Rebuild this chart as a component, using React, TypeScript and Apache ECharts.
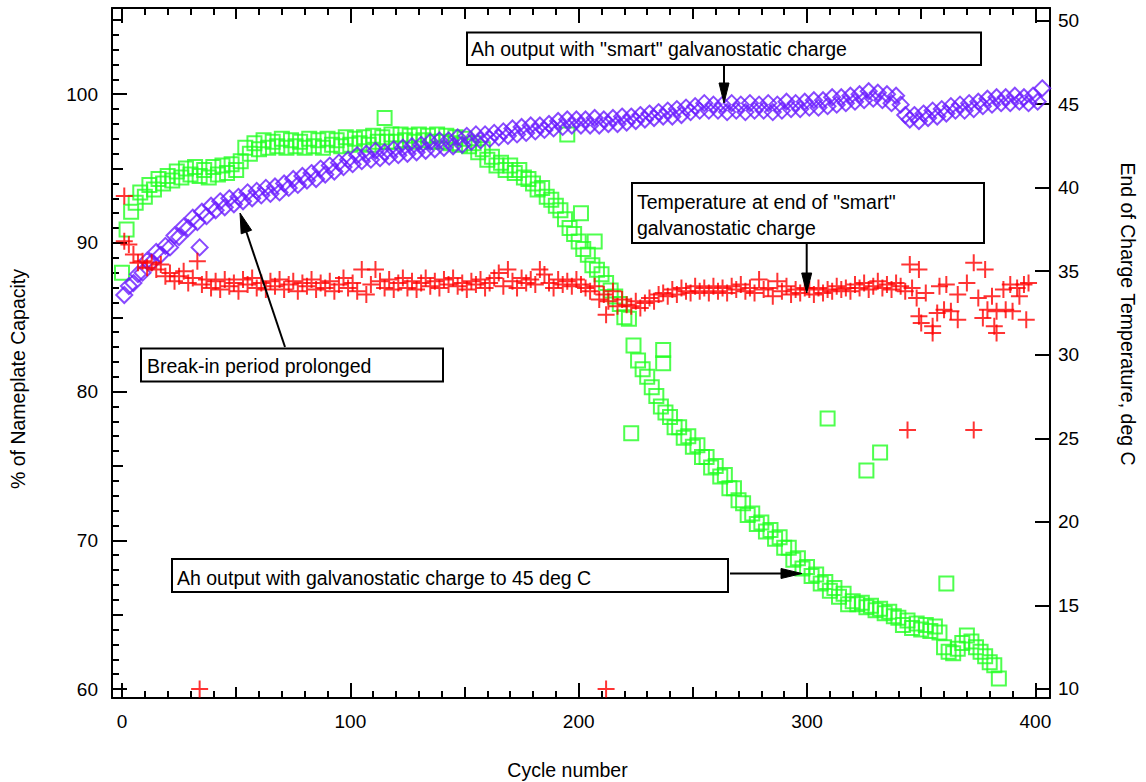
import React, { useEffect, useRef } from "react";
import * as echarts from "echarts";

// ---------- axis ranges ----------
const X_MIN = -4.38;
const X_MAX = 406.4;
const YL_MIN = 59.395;
const YL_MAX = 105.8;
const YR_MIN = 9.461;
const YR_MAX = 50.75;

// ---------- tick values ----------
const xMajorTicks = [0, 100, 200, 300, 400];
const xMediumTicks = [50, 150, 250, 350];
const xMinorTicks = [10, 20, 30, 40, 60, 70, 80, 90, 110, 120, 130, 140, 160, 170, 180, 190, 210, 220, 230, 240, 260, 270, 280, 290, 310, 320, 330, 340, 360, 370, 380, 390];
const leftMajorTicks = [60, 70, 80, 90, 100];
const leftMediumTicks = [65, 75, 85, 95, 105];
const leftMinorTicks = [61, 62, 63, 64, 66, 67, 68, 69, 71, 72, 73, 74, 76, 77, 78, 79, 81, 82, 83, 84, 86, 87, 88, 89, 91, 92, 93, 94, 96, 97, 98, 99, 101, 102, 103, 104];
const rightTicks = [10, 15, 20, 25, 30, 35, 40, 45, 50];

// ---------- data ----------
const oddCycles = [
  1, 3, 5, 7, 9, 11, 13, 15, 17, 19, 21, 23, 25, 27, 29, 31, 33, 35, 37, 39,
  41, 43, 45, 47, 49, 51, 53, 55, 57, 59, 61, 63, 65, 67, 69, 71, 73, 75, 77, 79,
  81, 83, 85, 87, 89, 91, 93, 95, 97, 99, 101, 103, 105, 107, 109, 111, 113, 115, 117, 119,
  121, 123, 125, 127, 129, 131, 133, 135, 137, 139, 141, 143, 145, 147, 149, 151, 153, 155, 157, 159,
  161, 163, 165, 167, 169, 171, 173, 175, 177, 179, 181, 183, 185, 187, 189, 191, 193, 195, 197, 199,
  201, 203, 205, 207, 209, 211, 213, 215, 217, 219, 221, 223, 225, 227, 229, 231, 233, 235, 237, 239,
  241, 243, 245, 247, 249, 251, 253, 255, 257, 259, 261, 263, 265, 267, 269, 271, 273, 275, 277, 279,
  281, 283, 285, 287, 289, 291, 293, 295, 297, 299, 301, 303, 305, 307, 309, 311, 313, 315, 317, 319,
  321, 323, 325, 327, 329, 331, 333, 335, 337, 339, 341, 343, 345, 347, 349, 351, 353, 355, 357, 359,
  361, 363, 365, 367, 369, 371, 373, 375, 377, 379, 381, 383, 385, 387, 389, 391, 393, 395, 397, 399,
  401, 403,
];
const evenCycles = [
  0, 2, 4, 6, 8, 10, 12, 14, 16, 18, 20, 22, 24, 26, 28, 30, 32, 34, 36, 38,
  40, 42, 44, 46, 48, 50, 52, 54, 56, 58, 60, 62, 64, 66, 68, 70, 72, 74, 76, 78,
  80, 82, 84, 86, 88, 90, 92, 94, 96, 98, 100, 102, 104, 106, 108, 110, 112, 114, 116, 118,
  120, 122, 124, 126, 128, 130, 132, 134, 136, 138, 140, 142, 144, 146, 148, 150, 152, 154, 156, 158,
  160, 162, 164, 166, 168, 170, 172, 174, 176, 178, 180, 182, 184, 186, 188, 190, 192, 194, 196, 198,
  200, 202, 204, 206, 208, 210, 212, 214, 216, 218, 220, 222, 224, 226, 228, 230, 232, 234, 236, 238,
  240, 242, 244, 246, 248, 250, 252, 254, 256, 258, 260, 262, 264, 266, 268, 270, 272, 274, 276, 278,
  280, 282, 284, 286, 288, 290, 292, 294, 296, 298, 300, 302, 304, 306, 308, 310, 312, 314, 316, 318,
  320, 322, 324, 326, 328, 330, 332, 334, 336, 338, 340, 342, 344, 346, 348, 350, 352, 354, 356, 358,
  360, 362, 364, 366, 368, 370, 372, 374, 376, 378, 380, 382, 384,
];

// Ah output with "smart" galvanostatic charge (% of nameplate), odd cycles 1..403
const smartCapacity = [
  86.5, 87.1, 87.3, 87.9, 88.0, 88.8, 88.7, 89.4, 89.2, 89.8,
  89.7, 90.5, 90.4, 91.1, 91.0, 91.7, 91.4, 92.1, 91.8, 92.5,
  92.2, 92.8, 92.4, 93.0, 92.6, 93.1, 92.8, 93.4, 93.0, 93.5,
  93.2, 93.7, 93.3, 93.8, 93.4, 94.0, 93.7, 94.3, 93.9, 94.5,
  94.2, 94.7, 94.3, 95.0, 94.6, 95.2, 94.8, 95.4, 95.1, 95.6,
  95.3, 95.9, 95.5, 96.0, 95.6, 96.2, 95.7, 96.1, 95.8, 96.3,
  95.9, 96.4, 96.0, 96.5, 96.1, 96.6, 96.2, 96.8, 96.3, 96.9,
  96.4, 96.9, 96.5, 97.1, 96.6, 97.2, 96.8, 97.3, 96.9, 97.3,
  97.0, 97.4, 97.1, 97.5, 97.2, 97.7, 97.3, 97.8, 97.4, 97.9,
  97.5, 97.9, 97.6, 98.0, 97.7, 98.2, 97.8, 98.3, 97.9, 98.3,
  97.9, 98.3, 97.9, 98.4, 97.9, 98.3, 98.0, 98.4, 98.0, 98.5,
  98.1, 98.5, 98.2, 98.6, 98.3, 98.7, 98.4, 98.8, 98.5, 98.9,
  98.5, 99.0, 98.6, 99.1, 98.8, 99.2, 98.9, 99.4, 98.9, 99.3,
  98.9, 99.3, 98.8, 99.4, 98.9, 99.3, 98.8, 99.4, 98.9, 99.3,
  98.9, 99.4, 98.8, 99.3, 98.9, 99.5, 99.0, 99.4, 99.0, 99.5,
  99.1, 99.6, 99.1, 99.6, 99.2, 99.8, 99.3, 99.8, 99.4, 99.9,
  99.5, 100.0, 99.6, 100.2, 99.7, 100.1, 99.6, 100.0, 99.4, 99.9,
  99.3, 98.6, 98.3, 98.6, 98.2, 98.7, 98.4, 98.9, 98.5, 99.0,
  98.7, 99.2, 98.9, 99.3, 98.9, 99.4, 99.0, 99.5, 99.2, 99.7,
  99.3, 99.8, 99.4, 99.8, 99.4, 99.9, 99.5, 99.8, 99.4, 99.9,
  99.5, 100.4,
];
const smartCapacityExtra: [number, number][] = [[34, 89.7]];

// Ah output with galvanostatic charge to 45 deg C (% of nameplate), even cycles 0..384
const galvCapacity = [
  88.0, 90.9, 92.1, 92.7, 93.4, 93.1, 93.9, 93.6, 94.3, 94.0,
  94.5, 94.2, 94.8, 94.4, 95.0, 94.6, 95.1, 94.5, 94.9, 94.4,
  95.1, 94.6, 95.2, 94.7, 95.3, 94.9, 95.5, 96.4, 96.0, 96.7,
  96.3, 96.9, 96.4, 96.8, 96.5, 97.0, 96.4, 96.9, 96.5, 96.8,
  96.4, 97.0, 96.5, 96.9, 96.4, 97.0, 96.6, 96.9, 96.5, 97.1,
  96.6, 97.0, 96.7, 97.1, 96.6, 97.2, 96.8, 97.1, 96.8, 97.3,
  96.8, 97.3, 96.9, 97.2, 96.8, 97.3, 96.9, 97.2, 96.8, 97.3,
  96.8, 97.2, 96.7, 97.1, 96.6, 97.0, 96.5, 96.7, 96.1, 96.3,
  95.6, 95.8, 95.2, 95.4, 94.9, 95.2, 94.7, 94.9, 94.4, 94.3,
  94.0, 93.6, 93.7, 93.1, 92.9, 92.5, 92.2, 91.6, 91.0, 90.6,
  90.1, 89.6, 89.2, 88.5, 88.2, 87.9, 87.3, 86.8, 86.4, 85.9,
  85.0, 84.9, 83.1, 82.1, 81.5, 81.0, 80.3, 79.7, 79.0, 78.6,
  78.3, 77.6, 77.6, 76.9, 77.0, 76.3, 76.4, 75.6, 75.6, 74.9,
  75.0, 74.3, 74.4, 73.5, 73.5, 72.7, 72.5, 71.7, 71.8, 71.1,
  71.2, 70.6, 70.7, 70.1, 70.2, 69.5, 69.5, 68.7, 68.8, 68.1,
  68.2, 67.6, 67.7, 67.1, 67.2, 66.6, 66.8, 66.2, 66.4, 65.7,
  65.9, 65.7, 65.8, 65.5, 65.6, 65.3, 65.4, 65.1, 65.2, 64.9,
  64.8, 64.3, 64.6, 64.1, 64.4, 64.0, 64.3, 63.9, 64.2, 63.8,
  62.8, 62.5, 62.4, 62.7, 63.1, 63.6, 63.2, 62.8, 62.5, 62.2,
  61.8, 61.6, 60.7,
];
const galvCapacityExtra: [number, number][] = [
  [115, 98.4], [195, 97.3], [201, 92.0], [207, 90.1], [223, 77.2],
  [237, 82.8], [237, 81.9], [309, 78.2], [326, 74.7], [332, 75.9], [361, 67.1],
];

// Temperature at end of "smart" galvanostatic charge (deg C), odd cycles 1..339
const smartTemperature = [
  36.8, 36.6, 36.0, 35.5, 35.6, 35.2, 35.5, 35.1, 35.4, 34.7,
  34.9, 34.4, 34.7, 35.0, 34.3, 34.6, 35.6, 34.2, 34.5, 34.0,
  34.4, 33.9, 34.5, 34.1, 34.3, 33.8, 34.5, 34.2, 34.6, 34.0,
  34.3, 33.9, 34.4, 34.1, 34.5, 33.9, 34.2, 34.4, 33.8, 34.3,
  34.1, 34.5, 33.9, 34.3, 34.0, 34.4, 33.8, 34.2, 34.6, 34.0,
  34.3, 33.8, 35.1, 33.6, 34.2, 35.1, 34.4, 34.0, 34.5, 33.9,
  34.3, 34.6, 34.0, 34.4, 33.9, 34.3, 34.6, 34.1, 34.4, 34.0,
  34.5, 34.2, 34.6, 34.1, 34.3, 33.9, 34.4, 34.2, 34.5, 34.0,
  34.3, 34.6, 34.9, 34.1, 35.1, 34.4, 34.0, 34.6, 34.3, 34.5,
  34.2, 35.1, 34.8, 34.3, 34.0, 34.5, 34.2, 34.4, 34.1, 34.5,
  34.2, 34.0, 33.8, 34.1, 33.3, 33.6, 33.2, 33.8, 32.9, 33.3,
  33.0, 32.9, 33.2, 32.8, 33.1, 33.4, 33.2, 33.6, 33.7, 33.5,
  33.9, 33.6, 34.0, 33.8, 33.7, 34.1, 33.8, 34.0, 33.7, 34.1,
  33.8, 34.0, 33.7, 34.1, 33.9, 34.2, 33.8, 34.0, 33.7, 34.5,
  33.9, 34.0, 33.5, 34.4, 33.8, 34.1, 33.6, 33.9, 33.7, 34.0,
  33.9, 33.6, 34.0, 33.7, 33.9, 33.8, 34.1, 33.9, 34.0, 33.8,
  34.2, 34.0, 34.3, 33.9, 34.1, 34.4, 34.0, 34.2, 33.9, 34.3,
];
const smartTemperatureExtra: [number, number][] = [
  [1, 39.5], [34, 10], [212, 10], [212, 32.4], [344, 25.5], [373, 25.5],
  [341, 34.1], [343, 33.8], [345, 35.4], [346, 34.0], [348, 33.4], [349, 35.1],
  [349, 32.3], [350, 31.9], [352, 33.7], [355, 31.7], [355, 31.3], [357, 32.5],
  [358, 34.1], [360, 32.7], [361, 34.2], [363, 32.6], [366, 32.1], [366, 33.6],
  [370, 34.3], [373, 35.5], [375, 33.4], [377, 32.2], [378, 35.1], [379, 32.7],
  [381, 33.5], [382, 31.7], [383, 32.6], [383, 31.3], [386, 33.9], [387, 32.7],
  [389, 34.2], [390, 32.6], [392, 34.0], [393, 33.5], [395, 34.2], [396, 32.1],
  [397, 34.3],
];

const FONT = "'Liberation Sans', Arial, Helvetica, sans-serif";
const GREEN = "#22ff22";
const PURPLE = "#6a1cff";
const RED = "#ff0000";

function pairs(xs: number[], ys: number[], extra: [number, number][]) {
  const out: [number, number][] = ys.map((y, i) => [xs[i], y]);
  return out.concat(extra);
}

const tickStyle = { color: "#000", width: 2 };

function tickAxis(position: string, min: number, max: number, values: number[], len: number) {
  return {
    type: "value",
    position,
    min,
    max,
    axisLine: { show: false, onZero: false },
    axisLabel: { show: false },
    splitLine: { show: false },
    axisTick: { show: true, inside: true, length: len, customValues: values, lineStyle: tickStyle },
  };
}

function mainAxis(position: string, min: number, max: number, values: number[], len: number, showLabel: boolean, margin: number) {
  return {
    type: "value",
    position,
    min,
    max,
    axisLine: { show: true, onZero: false, lineStyle: { color: "#000", width: 2 } },
    splitLine: { show: false },
    axisTick: { show: true, inside: true, length: len, customValues: values, lineStyle: tickStyle },
    axisLabel: {
      show: showLabel,
      customValues: values,
      margin,
      color: "#000",
      fontSize: 19,
      fontFamily: FONT,
    },
  };
}

function textEl(x: number, y: number, text: string, extra: any = {}) {
  return {
    type: "text",
    x,
    y,
    z: 110,
    ...extra,
    style: {
      text,
      fill: "#000",
      fontSize: 19.5,
      fontFamily: FONT,
      align: extra.align || "left",
      textAlign: extra.align || "left",
      verticalAlign: "middle",
      textVerticalAlign: "middle",
    },
  };
}

function boxEl(x: number, y: number, w: number, h: number) {
  return {
    type: "rect",
    z: 105,
    shape: { x, y, width: w, height: h },
    style: { fill: "#fff", stroke: "#000", lineWidth: 2 },
  };
}

function lineEl(x1: number, y1: number, x2: number, y2: number) {
  return {
    type: "line",
    z: 105,
    shape: { x1, y1, x2, y2 },
    style: { stroke: "#000", lineWidth: 2 },
  };
}

function headEl(points: number[][]) {
  return {
    type: "polygon",
    z: 105,
    shape: { points },
    style: { fill: "#000", stroke: "#000", lineWidth: 1 },
  };
}

export default function App() {
  const ref = useRef<HTMLDivElement>(null);

  useEffect(() => {
    if (!ref.current) return;
    const chart = echarts.init(ref.current, undefined, { renderer: "svg" });

    const option: any = {
      animation: false,
      backgroundColor: "#fff",
      grid: { left: 112, top: 8, width: 938, height: 690, containLabel: false, outerBoundsMode: "none" },
      xAxis: [
        mainAxis("bottom", X_MIN, X_MAX, xMajorTicks, 15, true, 14),
        tickAxis("bottom", X_MIN, X_MAX, xMediumTicks, 11),
        tickAxis("bottom", X_MIN, X_MAX, xMinorTicks, 7),
        mainAxis("top", X_MIN, X_MAX, xMajorTicks, 15, false, 8),
        tickAxis("top", X_MIN, X_MAX, xMediumTicks, 11),
        tickAxis("top", X_MIN, X_MAX, xMinorTicks, 7),
      ],
      yAxis: [
        mainAxis("left", YL_MIN, YL_MAX, leftMajorTicks, 15, true, 14),
        tickAxis("left", YL_MIN, YL_MAX, leftMediumTicks, 11),
        tickAxis("left", YL_MIN, YL_MAX, leftMinorTicks, 7),
        mainAxis("right", YR_MIN, YR_MAX, rightTicks, 15, true, 8),
      ],
      series: [
        {
          name: "Ah output with galvanostatic charge to 45 deg C",
          type: "scatter",
          xAxisIndex: 0,
          yAxisIndex: 0,
          symbol: "rect",
          symbolSize: 14,
          itemStyle: { color: "rgba(0,0,0,0)", borderColor: GREEN, borderWidth: 2 },
          data: pairs(evenCycles, galvCapacity, galvCapacityExtra),
        },
        {
          name: 'Ah output with "smart" galvanostatic charge',
          type: "scatter",
          xAxisIndex: 0,
          yAxisIndex: 0,
          symbol: "diamond",
          symbolSize: 16,
          itemStyle: { color: "rgba(0,0,0,0)", borderColor: PURPLE, borderWidth: 2 },
          data: pairs(oddCycles, smartCapacity, smartCapacityExtra),
        },
        {
          name: 'Temperature at end of "smart" galvanostatic charge',
          type: "scatter",
          xAxisIndex: 0,
          yAxisIndex: 3,
          symbol: "path://M5,0V10M0,5H10",
          symbolSize: 17,
          itemStyle: { color: "rgba(0,0,0,0)", borderColor: RED, borderWidth: 2 },
          data: pairs(oddCycles.slice(0, smartTemperature.length), smartTemperature, smartTemperatureExtra),
        },
      ],
      graphic: [
        // axis titles
        textEl(567.5, 770, "Cycle number", { align: "center" }),
        {
          ...textEl(18, 379, "% of Nameplate Capacity", { align: "center" }),
          rotation: Math.PI / 2,
        },
        {
          ...textEl(1128, 314, "End of Charge Temperature, deg C", { align: "center" }),
          rotation: -Math.PI / 2,
        },
        // annotation 1
        boxEl(467, 32.5, 514, 32.5),
        textEl(471, 49, 'Ah output with "smart" galvanostatic charge'),
        lineEl(724, 66, 724, 85),
        headEl([[719, 83], [729, 83], [724, 103]]),
        // annotation 2
        boxEl(632, 183, 352, 60),
        textEl(637, 201.5, 'Temperature at end of "smart"'),
        textEl(637, 228, "galvanostatic charge"),
        lineEl(806.7, 244, 806.7, 275),
        headEl([[801.7, 273], [811.7, 273], [806.7, 293]]),
        // annotation 3
        boxEl(141, 348.5, 302, 33),
        textEl(147, 366, "Break-in period prolonged"),
        lineEl(285, 347, 246.4, 232),
        headEl([[251.6, 230.2], [241.2, 233.8], [240, 213]]),
        // annotation 4
        boxEl(172, 559, 556, 33),
        textEl(177, 577.5, "Ah output with galvanostatic charge to 45 deg C"),
        lineEl(730, 573.5, 783, 573.5),
        headEl([[781, 568.5], [781, 578.5], [802, 573.5]]),
      ],
    };

    chart.setOption(option);
    return () => chart.dispose();
  }, []);

  return (
    <div
      ref={ref}
      style={{ position: "fixed", left: 0, top: 0, width: 1146, height: 782, background: "#fff" }}
    />
  );
}
